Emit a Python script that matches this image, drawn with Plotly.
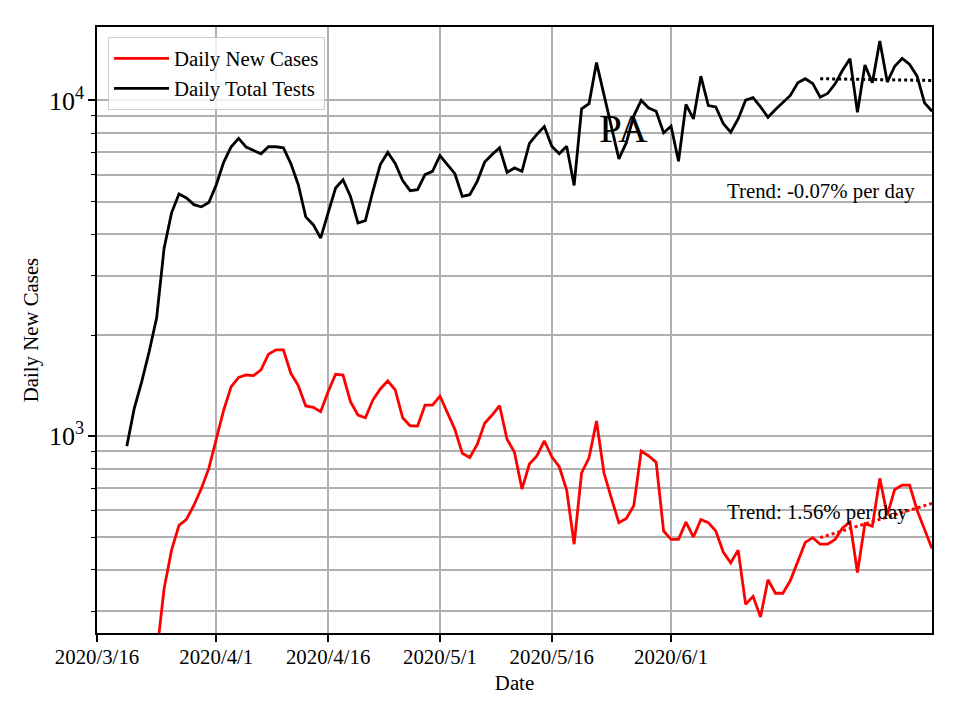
import pandas as pd
import plotly.graph_objects as go

# ---------------- data ----------------
series_start = "2020-03-20"

daily_total_tests = [
    933, 1210, 1453, 1786, 2250, 3630, 4625, 5266, 5122, 4893,
    4820, 4966, 5610, 6550, 7280, 7710, 7260, 7100, 6935, 7280,
    7280, 7230, 6487, 5610, 4500, 4265, 3891, 4625, 5485, 5805,
    5177, 4315, 4385, 5360, 6440, 7000, 6487, 5770, 5385, 5420,
    6010, 6150, 6855, 6440, 6050, 5177, 5240, 5740, 6550, 6905,
    7230, 6105, 6295, 6150, 7450, 7925, 8360, 7310, 6935, 7310,
    5585, 9440, 9790, 12970, 10400, 8400, 6700, 7485, 9000, 10000,
    9500, 9290, 8010, 8380, 6590, 9730, 8810, 11815, 9660, 9570,
    8535, 8040, 8810, 10020, 10190, 9570, 8915, 9400, 9885, 10350,
    11290, 11610, 11240, 10230, 10490, 11210, 12300, 13320, 9220, 12760,
    11290, 15030, 11350, 12650, 13340, 12800, 11815, 9840, 9290,
]

daily_new_cases = [
    110, 120, 150, 185, 223, 351, 457, 542, 565, 622,
    698, 801, 985, 1196, 1403, 1496, 1520, 1514, 1574, 1753,
    1806, 1806, 1538, 1413, 1229, 1218, 1182, 1356, 1528, 1520,
    1266, 1155, 1134, 1280, 1381, 1459, 1372, 1134, 1073, 1071,
    1237, 1237, 1316, 1174, 1047, 888, 863, 944, 1091, 1155,
    1231, 978, 894, 695, 825, 873, 968, 867, 810, 690,
    476, 777, 861, 1109, 777, 652, 552, 568, 620, 902,
    872, 835, 521, 492, 492, 554, 500, 564, 552, 521,
    451, 419, 457, 315, 333, 289, 373, 340, 340, 371,
    424, 482, 498, 476, 476, 492, 532, 554, 392, 548,
    539, 748, 581, 693, 714, 714, 601, 530, 462,
]

trend_dates = ["2020-06-21", "2020-07-06"]
trend_tests = [11610, 11475]
trend_cases = [498, 630]
trend_labels = ["Trend: -0.07% per day", "Trend: 1.56% per day"]

x_tick_vals = ["2020-03-16", "2020-04-01", "2020-04-16", "2020-05-01", "2020-05-16", "2020-06-01"]
x_tick_text = ["2020/3/16", "2020/4/1", "2020/4/16", "2020/5/1", "2020/5/16", "2020/6/1"]
x_range = ["2020-03-16", "2020-07-06"]
y_range_log = [2.413, 4.219]

state_label = "PA"

# ---------------- figure ----------------
dates_tests = pd.date_range(series_start, periods=len(daily_total_tests), freq="D")
dates_cases = pd.date_range(series_start, periods=len(daily_new_cases), freq="D")

FONT = "Liberation Serif, Times New Roman, serif"
FS = 20.8

fig = go.Figure()
fig.add_trace(go.Scatter(
    x=dates_cases, y=daily_new_cases, mode="lines", name="Daily New Cases",
    line=dict(color="#ff0000", width=2.8), legendgroup="a"))
fig.add_trace(go.Scatter(
    x=dates_tests, y=daily_total_tests, mode="lines", name="Daily Total Tests",
    line=dict(color="#000000", width=2.8), legendgroup="b"))
fig.add_trace(go.Scatter(
    x=trend_dates, y=trend_cases, mode="lines", showlegend=False,
    line=dict(color="#ff0000", width=3, dash="dot")))
fig.add_trace(go.Scatter(
    x=trend_dates, y=trend_tests, mode="lines", showlegend=False,
    line=dict(color="#000000", width=3, dash="dot")))

fig.add_annotation(text=state_label, xref="paper", yref="paper", x=0.63, y=0.834,
                   showarrow=False, font=dict(family=FONT, size=41, color="black"),
                   xanchor="center", yanchor="middle")
fig.add_annotation(text=trend_labels[0], xref="paper", yref="paper", x=0.752, y=0.729,
                   showarrow=False, font=dict(family=FONT, size=FS, color="black"),
                   xanchor="left", yanchor="middle")
fig.add_annotation(text=trend_labels[1], xref="paper", yref="paper", x=0.752, y=0.2,
                   showarrow=False, font=dict(family=FONT, size=FS, color="black"),
                   xanchor="left", yanchor="middle")

fig.update_layout(
    width=944, height=704,
    margin=dict(l=89, r=20, t=19, b=79),
    paper_bgcolor="white", plot_bgcolor="white",
    font=dict(family=FONT, size=FS, color="black"),
    showlegend=True,
    legend=dict(x=0.0132, y=0.983, xanchor="left", yanchor="top",
                bgcolor="rgba(255,255,255,0.8)", bordercolor="#cccccc", borderwidth=1,
                font=dict(family=FONT, size=FS), tracegroupgap=0, itemwidth=55),
    xaxis=dict(
        type="date", range=x_range, tickmode="array", tickvals=x_tick_vals, ticktext=x_tick_text,
        showgrid=True, gridcolor="#b0b0b0", gridwidth=1.6, automargin=False,
        showline=True, mirror=True, linecolor="black", linewidth=1.6,
        ticks="outside", ticklen=7, tickwidth=1.6, tickcolor="black",
        ticklabelstandoff=-3,
        title=dict(text="Date", standoff=9, font=dict(family=FONT, size=FS)),
        zeroline=False),
    yaxis=dict(
        type="log", range=y_range_log, dtick=1, exponentformat="power", automargin=False,
        showgrid=True, gridcolor="#b0b0b0", gridwidth=1.6,
        showline=True, mirror=True, linecolor="black", linewidth=1.6,
        ticks="outside", ticklen=7, tickwidth=1.6, tickcolor="black",
        minor=dict(dtick="D1", ticks="outside", ticklen=4, tickwidth=1.2, tickcolor="black",
                   showgrid=True, gridcolor="#b0b0b0", gridwidth=1.6),
        title=dict(text="Daily New Cases", standoff=5, font=dict(family=FONT, size=FS)),
        zeroline=False),
)

fig.write_html("out.html")
